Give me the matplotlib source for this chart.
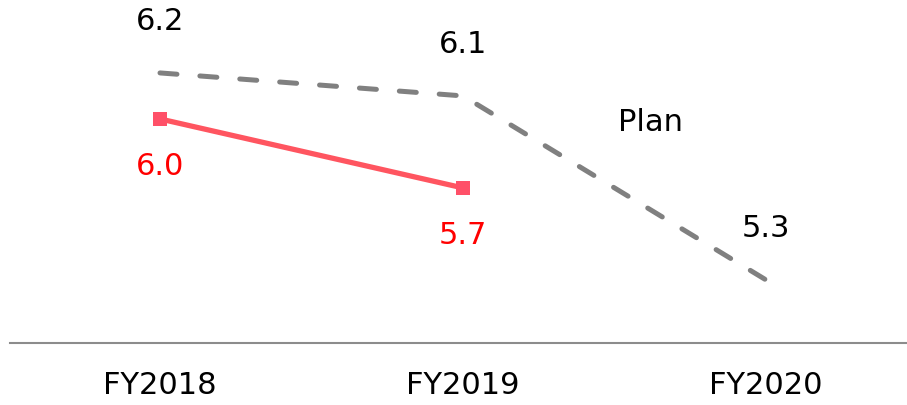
import matplotlib.pyplot as plt

# data
years = ['FY2018', 'FY2019', 'FY2020']
plan = [6.2, 6.1, 5.3]
actual = [6.0, 5.7]

fig = plt.figure(figsize=(9.07, 4.05), dpi=100)
ax = fig.add_axes([10/907, 1 - 343/405, 897/907, 343/405])

x = list(range(len(years)))

# plan line (dashed grey)
ax.plot(x, plan, color='#808080', lw=3.6, dashes=(3.4, 4.6),
        dash_capstyle='round', solid_joinstyle='round')
# actual line
ax.plot(x[:len(actual)], actual, color='#FF5560', lw=3.8,
        marker='s', markersize=9.5, markerfacecolor='#FF5068', markeredgewidth=0)

for i, v in enumerate(plan):
    ax.annotate(f'{v:.1f}', (x[i], v), xytext=(0, 37), textcoords='offset points',
                ha='center', va='center', fontsize=22, color='black')
for i, v in enumerate(actual):
    ax.annotate(f'{v:.1f}', (x[i], v), xytext=(0, -34), textcoords='offset points',
                ha='center', va='center', fontsize=22, color='#FF0000')

ax.text(1.62, 5.985, 'Plan', ha='center', va='center', fontsize=22, color='black')

ax.set_xlim(-0.495, 2.465)
ax.set_ylim(5.026, 6.517)
ax.set_xticks(x)
ax.set_xticklabels(years, fontsize=22)
ax.tick_params(axis='x', length=0, pad=20)
ax.set_yticks([])
for s in ['top', 'right', 'left']:
    ax.spines[s].set_visible(False)
ax.spines['bottom'].set_color('#8C8C8C')
ax.spines['bottom'].set_linewidth(1.5)

fig.savefig('out.png', dpi=100)
